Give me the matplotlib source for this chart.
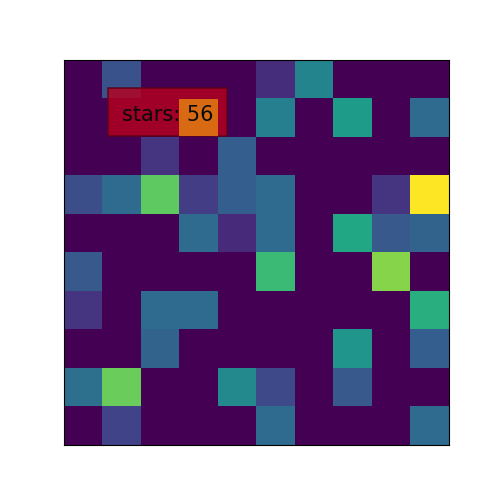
import numpy as np
import matplotlib
matplotlib.use('Agg')
import matplotlib.pyplot as plt
from matplotlib.patches import Rectangle

# ── Data (0..1 on viridis) ─────────────────────────────────────────────────
row0 = [0, 0.25, 0, 0, 0, 0.13, 0.45, 0, 0, 0]
row1 = [0, 0, 0, 0, 0, 0.43, 0, 0.55, 0, 0.35]
row2 = [0, 0, 0.15, 0, 0.30, 0, 0, 0, 0, 0]
row3 = [0.24, 0.35, 0.75, 0.18, 0.30, 0.35, 0, 0, 0.15, 1.0]
row4 = [0, 0, 0, 0.35, 0.12, 0.35, 0, 0.60, 0.28, 0.32]
row5 = [0.28, 0, 0, 0, 0, 0.68, 0, 0, 0.82, 0]
row6 = [0.15, 0, 0.35, 0.35, 0, 0, 0, 0, 0, 0.63]
row7 = [0, 0, 0.32, 0, 0, 0, 0, 0.52, 0, 0.30]
row8 = [0.37, 0.77, 0, 0, 0.47, 0.22, 0, 0.28, 0, 0]
row9 = [0, 0.20, 0, 0, 0, 0.35, 0, 0, 0, 0.35]

highlight_row = 1
highlight_col = 3
label_text = 'stars: 56'

grid = np.array([row0, row1, row2, row3, row4, row5, row6, row7, row8, row9])

fig, ax = plt.subplots(figsize=(5, 5), dpi=100)
ax.imshow(grid, cmap='viridis', vmin=0, vmax=1)
ax.set_xticks([])
ax.set_yticks([])

# tooltip-like box over the highlighted cell
ax.add_patch(Rectangle((0.64, 0.23), 3.09, 1.24, facecolor='#b5001d',
                       edgecolor='#5a0018', lw=1.2, alpha=0.82, zorder=3))
ax.add_patch(Rectangle((highlight_col - 0.5, highlight_row - 0.5), 1, 0.97,
                       facecolor='#d96a14', edgecolor='none', zorder=4))
ax.text(2.2, 0.92, label_text, fontsize=15, ha='center', va='center',
        color='#0a0a0a', zorder=5)

plt.savefig('out.png', dpi=100)
plt.close()
